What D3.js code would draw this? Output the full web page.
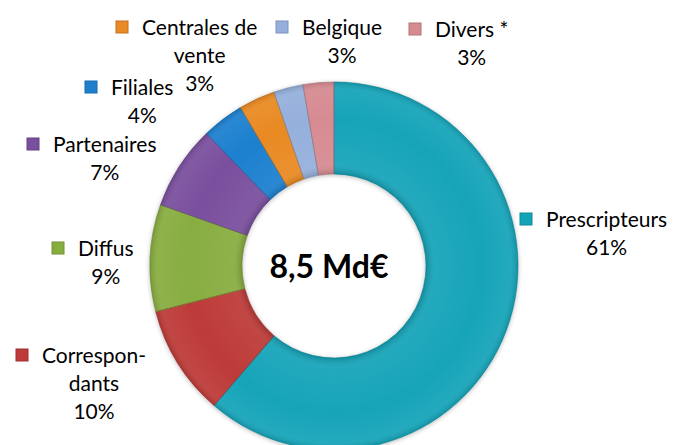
<!DOCTYPE html>
<html lang="fr">
<head>
<meta charset="utf-8">
<title>Répartition 8,5 Md€</title>
<script src="https://cdn.jsdelivr.net/npm/d3@7"></script>
<style>
  body { margin: 0; background: #fff; }
  svg { display: block; }
  .lbl { font-family: Lato, "Open Sans", sans-serif; font-size: 21px; fill: #000; }
  .total { font-family: Lato, "Open Sans", sans-serif; font-size: 32px; font-weight: bold; fill: #000; }
</style>
</head>
<body>
<svg id="chart"></svg>
<script>
// data, clockwise from 12 o'clock
var categories = ["Prescripteurs", "Correspondants", "Diffus", "Partenaires", "Filiales", "Centrales de vente", "Belgique", "Divers *"];
var shares = [61.3, 9.7, 9.4, 7.4, 3.7, 3.2, 2.6, 2.7];
var shareLabels = ["61%", "10%", "9%", "7%", "4%", "3%", "3%", "3%"];
var labelLines = [["Prescripteurs"], ["Correspon-", "dants"], ["Diffus"], ["Partenaires"], ["Filiales"], ["Centrales de", "vente"], ["Belgique"], ["Divers *"]];
var totalLabel = "8,5 Md€";

var colors = ["#12a4b9", "#bd3a38", "#88ad3f", "#7a4f9e", "#1c80cf", "#e98a24", "#95b0dc", "#d68b91"];
// where each label block starts (x of text, baseline of first line)
var labelPos = [[546, 227], [42, 363], [78, 256], [53, 152], [111, 95], [142, 35], [302, 35], [435, 37]];

var W = 676, H = 445;
var cx = 334, cy = 266, rOut = 184, rIn = 92;

var svg = d3.select("#chart").attr("width", W).attr("height", H);
var defs = svg.append("defs");

var shadow = defs.append("filter").attr("id", "shadow")
    .attr("x", "-10%").attr("y", "-10%").attr("width", "120%").attr("height", "120%");
shadow.append("feGaussianBlur").attr("in", "SourceAlpha").attr("stdDeviation", 2.5);
shadow.append("feOffset").attr("dx", 0).attr("dy", 1).attr("result", "b");
shadow.append("feComponentTransfer").append("feFuncA").attr("type", "linear").attr("slope", 0.3);
var merge = shadow.append("feMerge");
merge.append("feMergeNode");
merge.append("feMergeNode").attr("in", "SourceGraphic");

// soft bevel across the ring (gradient centred on the group origin)
var rg = defs.append("radialGradient").attr("id", "bevel")
    .attr("gradientUnits", "userSpaceOnUse")
    .attr("cx", 0).attr("cy", 0).attr("r", rOut);
rg.append("stop").attr("offset", rIn / rOut).attr("stop-color", "#000").attr("stop-opacity", 0.15);
rg.append("stop").attr("offset", rIn / rOut + 0.05).attr("stop-color", "#fff").attr("stop-opacity", 0.06);
rg.append("stop").attr("offset", 0.8).attr("stop-color", "#fff").attr("stop-opacity", 0);
rg.append("stop").attr("offset", 0.96).attr("stop-color", "#fff").attr("stop-opacity", 0.06);
rg.append("stop").attr("offset", 1).attr("stop-color", "#000").attr("stop-opacity", 0.12);

var pie = d3.pie().sort(null).value(function (d) { return d; });
var arcs = pie(shares);
var arc = d3.arc().innerRadius(rIn).outerRadius(rOut);

var g = svg.append("g").attr("transform", "translate(" + cx + "," + cy + ")");
var ring = g.append("g").attr("filter", "url(#shadow)");
ring.selectAll("path.slice").data(arcs).enter().append("path")
    .attr("class", "slice")
    .attr("d", arc)
    .attr("fill", function (d, i) { return colors[i]; });

g.selectAll("path.shade").data(arcs).enter().append("path")
    .attr("class", "shade")
    .attr("d", arc)
    .attr("fill", "url(#bevel)");

g.selectAll("path.edge").data(arcs).enter().append("path")
    .attr("class", "edge")
    .attr("d", arc)
    .attr("fill", "none")
    .attr("stroke", function (d, i) { return d3.color(colors[i]).darker(0.7); })
    .attr("stroke-width", 1)
    .attr("stroke-opacity", 0.6);

g.append("text").attr("class", "total")
    .attr("x", -5).attr("y", 4)
    .attr("text-anchor", "middle")
    .attr("dominant-baseline", "middle")
    .text(totalLabel);

// labels
var lineH = 28;
categories.forEach(function (c, i) {
  var x = labelPos[i][0], y = labelPos[i][1];
  var lg = svg.append("g");
  var first = lg.append("text").attr("class", "lbl").attr("x", x).attr("y", y).text(labelLines[i][0]);
  var w = first.node().getComputedTextLength();
  var mid = x + w / 2;
  var rest = labelLines[i].slice(1).concat([shareLabels[i]]);
  rest.forEach(function (t, k) {
    lg.append("text").attr("class", "lbl")
      .attr("x", mid).attr("y", y + lineH * (k + 1))
      .attr("text-anchor", "middle")
      .text(t);
  });
  lg.append("rect")
    .attr("x", x - 26).attr("y", y - 14)
    .attr("width", 12).attr("height", 12)
    .attr("fill", colors[i])
    .attr("stroke", d3.color(colors[i]).darker(0.5))
    .attr("stroke-width", 1);
});
</script>
</body>
</html>
